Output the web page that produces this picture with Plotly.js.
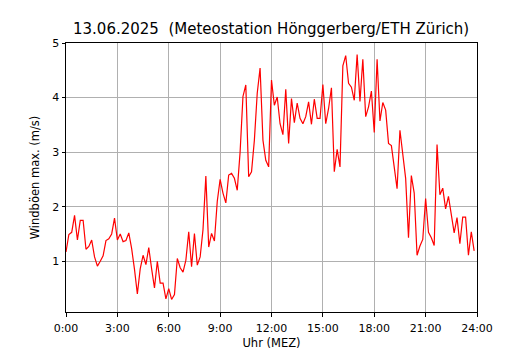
<!DOCTYPE html>
<html>
<head>
<meta charset="utf-8">
<script src="https://cdn.plot.ly/plotly-3.0.1.min.js"></script>
<style>html,body{margin:0;padding:0;background:#fff;}#chart{width:530px;height:350px;}</style>
</head>
<body>
<div id="chart"></div>
<script>
// 10-minute maximum wind gusts (m/s), 00:00 .. 23:50
const gusts = [
  1.17, 1.49, 1.53, 1.84, 1.39, 1.75, 1.75, 1.22, 1.27, 1.39, 1.08, 0.91,
  1.00, 1.10, 1.38, 1.41, 1.50, 1.79, 1.39, 1.50, 1.36, 1.38, 1.52, 1.23,
  0.85, 0.40, 0.86, 1.11, 0.94, 1.25, 0.86, 0.51, 1.00, 0.60, 0.60, 0.31,
  0.50, 0.30, 0.39, 1.05, 0.88, 0.80, 1.02, 1.54, 0.90, 1.51, 0.93, 1.08,
  1.58, 2.56, 1.26, 1.51, 1.37, 2.10, 2.50, 2.25, 2.07, 2.58, 2.61, 2.52,
  2.30, 3.00, 4.02, 4.23, 2.55, 2.64, 3.22, 4.08, 4.54, 3.22, 2.85, 2.73,
  4.32, 3.86, 4.01, 3.52, 3.32, 4.15, 3.16, 3.98, 3.54, 3.90, 3.62, 3.52,
  3.65, 3.92, 3.51, 3.97, 3.62, 3.62, 4.24, 3.52, 3.80, 4.18, 2.64, 3.05,
  2.73, 4.58, 4.77, 4.26, 4.19, 3.95, 4.79, 3.93, 4.70, 3.65, 3.83, 4.12,
  3.36, 4.70, 3.57, 3.91, 3.77, 3.16, 3.12, 2.70, 2.33, 3.40, 3.00, 2.52,
  1.43, 2.57, 2.25, 1.11, 1.28, 1.40, 2.15, 1.53, 1.43, 1.29, 3.14, 2.22,
  2.34, 1.96, 2.19, 1.81, 1.52, 1.80, 1.32, 1.81, 1.81, 1.11, 1.54, 1.19
];
const stepMinutes = 10;
const hours = gusts.map((_, i) => i * stepMinutes / 60);
const xTickVals = [0, 3, 6, 9, 12, 15, 18, 21, 24];
const xTickText = ["0:00", "3:00", "6:00", "9:00", "12:00", "15:00", "18:00", "21:00", "24:00"];
const yTickVals = [1, 2, 3, 4, 5];

const font = "DejaVu Sans, sans-serif";
const trace = {
  x: hours, y: gusts, type: "scatter", mode: "lines",
  line: {color: "#ff0000", width: 1.2}, hoverinfo: "skip"
};
const axisCommon = {
  showline: true, mirror: true, linecolor: "#000", linewidth: 1,
  ticks: "outside", ticklen: 3.5, tickwidth: 1, tickcolor: "#000",
  showgrid: true, gridcolor: "#b0b0b0", gridwidth: 1, zeroline: false,
  tickfont: {family: font, size: 11, color: "#000"}
};
const layout = {
  width: 530, height: 350,
  margin: {l: 66, r: 53, t: 43, b: 38},
  paper_bgcolor: "#fff", plot_bgcolor: "#fff",
  showlegend: false,
  title: {text: "13.06.2025  (Meteostation Hönggerberg/ETH Zürich)",
          font: {family: font, size: 15, color: "#000"},
          x: 0.5115, xanchor: "center", y: 0.917, yanchor: "middle"},
  xaxis: Object.assign({}, axisCommon, {
    range: [0, 24], tickmode: "array", tickvals: xTickVals, ticktext: xTickText,
    ticklabelstandoff: 2,
    title: {text: "Uhr (MEZ)", font: {family: font, size: 11.5, color: "#000"}, standoff: 7}
  }),
  yaxis: Object.assign({}, axisCommon, {
    range: [0.07, 5.0], tickmode: "array", tickvals: yTickVals,
    title: {text: "Windböen max. (m/s)", font: {family: font, size: 11.5, color: "#000"}, standoff: 10}
  })
};
Plotly.newPlot("chart", [trace], layout, {staticPlot: true, displayModeBar: false});
</script>
</body>
</html>
